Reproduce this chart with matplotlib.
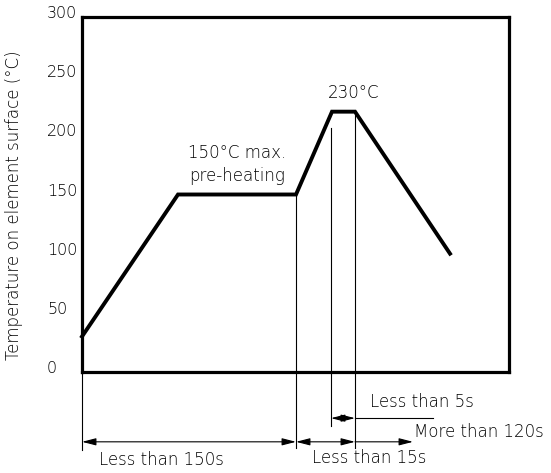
import numpy as np
import matplotlib
matplotlib.use("Agg")
import matplotlib.pyplot as plt
from matplotlib.transforms import ScaledTranslation

# reflow profile (x in arbitrary time units across the box)
t_profile = [0, 96, 214, 250, 273, 368]
temp_profile = [30, 150, 150, 220, 220, 100]

y_ticks = [0, 50, 100, 150, 200, 250, 300]

# extension lines: x, top value, bottom value
ext_x = [0, 214, 249, 273]
ext_top = [0, 149, 206, 220]
ext_bot = [-66, -64, -46, -64]

# dimension rows
dim_low_y = -59
dim_up_y = -39

plt.rcParams['font.family'] = ['DejaVu Sans']
plt.rcParams['font.size'] = 12
plt.rcParams['font.weight'] = 'light'
plt.rcParams['axes.labelweight'] = 'light'

fig = plt.figure(figsize=(5.51, 4.73), dpi=100)
ax = fig.add_axes([82 / 551, 101 / 473, 427 / 551, 355 / 473])

ax.plot(t_profile, temp_profile, color='black', lw=2.8, solid_joinstyle='miter', clip_on=False)

ax.set_xlim(0, 427)
ax.set_ylim(0, 300)
ax.set_xticks([])
ax.set_yticks(y_ticks)
# tick labels are left aligned in the original
ax.tick_params(axis='y', length=0, pad=25.2, labelsize=11.5)
for lab in ax.get_yticklabels():
    lab.set_horizontalalignment('left')
    lab.set_transform(lab.get_transform() + ScaledTranslation(0, 5 / 100, fig.dpi_scale_trans))
for sp in ax.spines.values():
    sp.set_linewidth(2.3)
    sp.set_color('black')

ax.set_ylabel("Temperature on element surface (°C)", fontsize=12, fontweight='light')
ax.yaxis.set_label_coords(-0.138, 0.469)

for x, top, bot in zip(ext_x, ext_top, ext_bot):
    ax.plot([x, x], [top, bot], color='black', lw=0.8, clip_on=False)

arrow = dict(lw=0.8, color='black', shrinkA=0, shrinkB=0)
both = '<|-|>,head_length=0.7,head_width=0.18'
one = '-|>,head_length=0.7,head_width=0.18'
ax.annotate('', xy=(0, dim_low_y), xytext=(214, dim_low_y),
            arrowprops=dict(arrowstyle=both, **arrow), annotation_clip=False)
ax.annotate('', xy=(214, dim_low_y), xytext=(273, dim_low_y),
            arrowprops=dict(arrowstyle=both, **arrow), annotation_clip=False)
ax.annotate('', xy=(331, dim_low_y), xytext=(273, dim_low_y),
            arrowprops=dict(arrowstyle=one, **arrow), annotation_clip=False)
ax.annotate('', xy=(249, dim_up_y), xytext=(273, dim_up_y),
            arrowprops=dict(arrowstyle=both, **arrow), annotation_clip=False)
ax.plot([273, 351], [dim_up_y, dim_up_y], color='black', lw=0.8, clip_on=False)

ax.text(155, 175, "150°C max.\npre-heating", ha='center', va='center', linespacing=1.35)
ax.text(272, 236, "230°C", ha='center', va='center')
ax.text(340, -25, "Less than 5s", ha='center', va='center')
ax.text(332, -51, "More than 120s", ha='left', va='center')
ax.text(287, -73, "Less than 15s", ha='center', va='center')
ax.text(79, -74, "Less than 150s", ha='center', va='center')

fig.savefig("out.png", dpi=100)
